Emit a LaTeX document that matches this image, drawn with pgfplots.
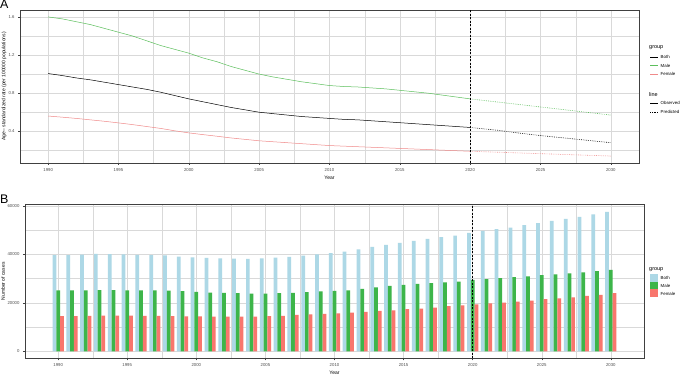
\documentclass[border=0pt]{standalone}
\usepackage{pgfplots}
\pgfplotsset{compat=1.18}
\usepackage{pgfplotstable}
\usepackage{fontspec}
\setmainfont{Liberation Sans}

\definecolor{cboth}{HTML}{ADD8E6}
\definecolor{cmale}{HTML}{3DB54A}
\definecolor{cfemale}{HTML}{F8766D}
\definecolor{lmale}{HTML}{5CBF5C}
\definecolor{lfemale}{HTML}{F08A8A}
\definecolor{gridc}{HTML}{D9D9D9}
\definecolor{tickc}{HTML}{4D4D4D}

\pgfplotstableread{
year both male female
1990 1.006 1.600 0.560
1991 0.985 1.580 0.548
1992 0.960 1.550 0.535
1993 0.940 1.520 0.520
1994 0.915 1.480 0.505
1995 0.890 1.440 0.488
1996 0.865 1.400 0.470
1997 0.840 1.350 0.450
1998 0.810 1.300 0.430
1999 0.775 1.260 0.405
2000 0.740 1.220 0.383
2001 0.710 1.170 0.365
2002 0.680 1.130 0.348
2003 0.650 1.080 0.330
2004 0.625 1.040 0.315
2005 0.600 1.000 0.300
2006 0.585 0.970 0.290
2007 0.570 0.945 0.280
2008 0.555 0.920 0.270
2009 0.545 0.900 0.260
2010 0.535 0.880 0.250
2011 0.525 0.870 0.244
2012 0.520 0.865 0.238
2013 0.510 0.855 0.232
2014 0.500 0.845 0.226
2015 0.490 0.830 0.220
2016 0.480 0.815 0.214
2017 0.470 0.800 0.208
2018 0.460 0.780 0.202
2019 0.450 0.760 0.196
2020 0.440 0.740 0.190
}\tabObs

\pgfplotstableread{
year both male female
2020 0.440 0.740 0.190
2021 0.425 0.723 0.185
2022 0.410 0.706 0.180
2023 0.390 0.689 0.175
2024 0.372 0.672 0.170
2025 0.355 0.655 0.165
2026 0.340 0.638 0.160
2027 0.325 0.621 0.155
2028 0.310 0.604 0.150
2029 0.295 0.587 0.145
2030 0.280 0.570 0.140
}\tabPred

\pgfplotstableread{
year both male female
1990 39700 25200 14500
1991 39700 25200 14500
1992 39900 25200 14600
1993 40200 25300 14700
1994 40100 25300 14700
1995 40000 25200 14700
1996 39800 25200 14600
1997 39700 25200 14600
1998 39600 25100 14500
1999 39100 24800 14400
2000 38800 24500 14400
2001 38600 24200 14300
2002 38400 24100 14300
2003 38300 24000 14300
2004 38200 23800 14300
2005 38400 23800 14500
2006 38700 24000 14600
2007 39000 24100 15000
2008 39500 24400 15200
2009 40000 24700 15400
2010 40500 24900 15700
2011 41200 25200 16000
2012 42100 25800 16300
2013 43100 26400 16700
2014 43900 27000 16900
2015 44800 27400 17400
2016 45600 27800 17600
2017 46400 28100 18000
2018 47100 28500 18600
2019 47800 28800 19000
2020 48900 29500 19400
2021 49700 29800 19800
2022 50400 30200 20100
2023 51100 30600 20500
2024 52100 30900 20900
2025 52900 31400 21500
2026 53900 31800 21900
2027 54700 32200 22300
2028 55500 32600 22900
2029 56500 33100 23300
2030 57600 33600 24000
}\tabB

\pgfplotsset{
  myaxis/.style={
    scale only axis,
    anchor=south west,
    axis line style={black!75, line width=0.6bp},
    grid=both,
    major grid style={gridc, line width=0.45bp},
    minor grid style={gridc, line width=0.3bp},
    tick align=outside,
    tick pos=left,
    major tick length=2bp,
    minor tick length=0pt,
    tick style={black!75, line width=0.4bp},
    tick label style={font=\fontsize{4.3}{5}\selectfont, text=tickc},
    /pgf/number format/assume math mode=true,
    xtick={1990,1995,...,2030},
    minor xtick={1992.5,1997.5,...,2027.5},
    x tick label style={/pgf/number format/1000 sep={}},
    label style={font=\fontsize{5}{6}\selectfont},
  }
}

\begin{document}
\begin{tikzpicture}
\useasboundingbox (0,0) rectangle (680bp,375bp);
\fill[white] (0,0) rectangle (680bp,375bp);

% ---------- Panel A ----------
\begin{axis}[myaxis,
  at={(20bp,212bp)}, width=619bp, height=153bp,
  xmin=1988, xmax=2032, ymin=0.067, ymax=1.673,
  ytick={0.4,0.8,1.2,1.6}, minor ytick={0.2,0.6,1.0,1.4},
  y tick label style={/pgf/number format/.cd, fixed, fixed zerofill, precision=1},
  xlabel={Year},
  xlabel style={at={([yshift=-15bp]axis description cs:0.5,0)}, anchor=center},
  ylabel={Age\,--\,standardized rate (per 100000 populations)},
  ylabel style={at={([xshift=-16bp]axis description cs:0,0.5)}, anchor=center},
]
\addplot[lmale, line width=0.5bp] table[x=year,y=male]{\tabObs};
\addplot[black, line width=0.5bp] table[x=year,y=both]{\tabObs};
\addplot[lfemale, line width=0.5bp] table[x=year,y=female]{\tabObs};
\addplot[lmale, line width=0.6bp, dash pattern=on 0.7bp off 1.1bp] table[x=year,y=male]{\tabPred};
\addplot[black, line width=0.6bp, dash pattern=on 0.7bp off 1.1bp] table[x=year,y=both]{\tabPred};
\addplot[lfemale, line width=0.6bp, dash pattern=on 0.7bp off 1.1bp] table[x=year,y=female]{\tabPred};
\draw[black, line width=0.5bp, dash pattern=on 2bp off 1.5bp] (axis cs:2020,0.067) -- (axis cs:2020,1.673);
\end{axis}

% ---------- Panel B ----------
\begin{axis}[myaxis,
  at={(25bp,16.7bp)}, width=619bp, height=154bp,
  xmin=1987.6, xmax=2032.4, ymin=-2900, ymax=60700,
  ytick={0,20000,40000,60000}, minor ytick={10000,30000,50000},
  scaled y ticks=false,
  y tick label style={/pgf/number format/.cd, fixed, 1000 sep={}},
  xlabel={Year},
  xlabel style={at={([yshift=-14.4bp]axis description cs:0.5,0)}, anchor=center},
  ylabel={Number of cases},
  ylabel style={at={([xshift=-22bp]axis description cs:0,0.5)}, anchor=center},
]
\addplot[ybar, bar width=0.27, bar shift=-0.27, fill=cboth, draw=none] table[x=year,y=both]{\tabB};
\addplot[ybar, bar width=0.27, bar shift=0, fill=cmale, draw=none] table[x=year,y=male]{\tabB};
\addplot[ybar, bar width=0.27, bar shift=0.27, fill=cfemale, draw=none] table[x=year,y=female]{\tabB};
\draw[black, line width=0.5bp, dash pattern=on 2bp off 1.5bp] (axis cs:2020,-2900) -- (axis cs:2020,60700);
\end{axis}

% panel letters
\node[anchor=north west, inner sep=0pt, font=\fontsize{12.5}{13}\selectfont] at (0bp,375bp) {A};
\node[anchor=north west, inner sep=0pt, font=\fontsize{12.5}{13}\selectfont] at (0bp,180.5bp) {B};

% legend A
\begin{scope}[every node/.style={anchor=west, inner sep=0pt, font=\fontsize{4.4}{5}\selectfont}]
\node[font=\fontsize{5.5}{6}\selectfont] at (649bp,327.3bp) {group};
\draw[black, line width=0.5bp] (650bp,318bp) -- (658bp,318bp);
\node at (660.5bp,318bp) {Both};
\draw[lmale, line width=0.5bp] (650bp,309.3bp) -- (658bp,309.3bp);
\node at (660.5bp,309.3bp) {Male};
\draw[lfemale, line width=0.5bp] (650bp,300.7bp) -- (658bp,300.7bp);
\node at (660.5bp,300.7bp) {Female};
\node[font=\fontsize{5.5}{6}\selectfont] at (649bp,280.7bp) {line};
\draw[black, line width=0.6bp] (650bp,271.7bp) -- (658bp,271.7bp);
\node at (660.5bp,271.7bp) {Observed};
\draw[black, line width=0.6bp, dash pattern=on 0.7bp off 1.1bp] (650bp,262.7bp) -- (658bp,262.7bp);
\node at (660.5bp,262.7bp) {Predicted};

% legend B
\node[font=\fontsize{5.5}{6}\selectfont] at (649bp,105.7bp) {group};
\fill[cboth] (650bp,93bp) rectangle (657.5bp,100.5bp);
\node at (660.5bp,96.7bp) {Both};
\fill[cmale] (650bp,85.5bp) rectangle (657.5bp,93bp);
\node at (660.5bp,89.3bp) {Male};
\fill[cfemale] (650bp,78bp) rectangle (657.5bp,85.5bp);
\node at (660.5bp,81.3bp) {Female};
\end{scope}
\end{tikzpicture}
\end{document}
